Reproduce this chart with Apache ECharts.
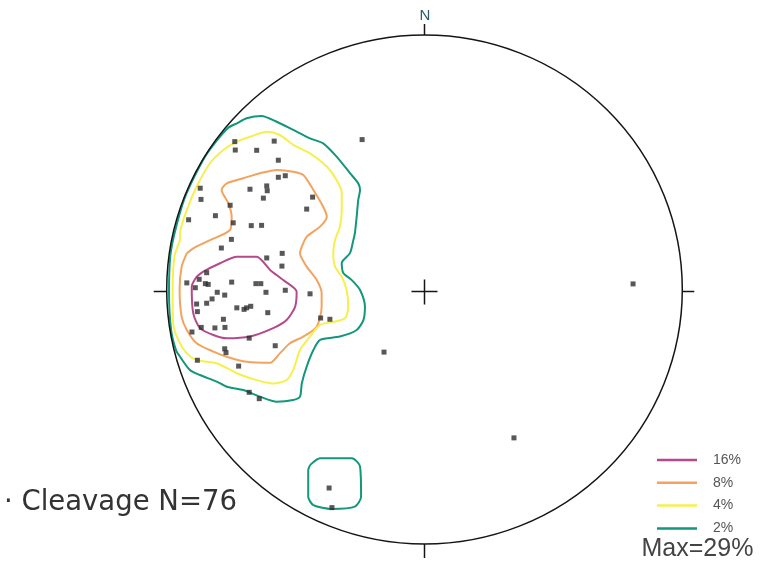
<!DOCTYPE html>
<html>
<head>
<meta charset="utf-8">
<script src="https://cdn.jsdelivr.net/npm/echarts@6/dist/echarts.min.js"></script>
<style>
html,body{margin:0;padding:0;background:#fff;}
#chart{width:760px;height:567px;}
</style>
</head>
<body>
<div id="chart"></div>
<script>
// Poles to cleavage, equal-area net coordinates (unit primitive circle)
const poles = [
  [-0.736,0.581],[-0.734,0.548],[-0.583,0.583],[-0.651,0.547],[-0.242,0.589],
  [-0.567,0.508],[-0.567,0.441],[-0.540,0.447],[-0.870,0.398],[-0.867,0.354],
  [-0.677,0.394],[-0.612,0.407],[-0.610,0.388],[-0.625,0.359],[-0.434,0.363],
  [-0.457,0.316],[-0.754,0.331],[-0.811,0.290],[-0.915,0.274],[-0.742,0.262],
  [-0.672,0.251],[-0.632,0.252],[-0.749,0.197],[-0.788,0.163],[-0.612,0.124],
  [-0.552,0.142],[-0.553,0.092],[-0.845,0.066],[-0.922,0.026],[-0.874,0.040],
  [-0.889,0.007],[-0.850,0.023],[-0.839,0.020],[-0.748,0.029],[-0.654,0.023],
  [-0.635,0.023],[-0.615,-0.011],[-0.540,-0.003],[-0.444,-0.017],[-0.804,-0.011],
  [-0.775,-0.022],[-0.824,-0.037],[-0.845,-0.054],[-0.884,-0.057],[-0.728,-0.072],
  [-0.700,-0.078],[-0.690,-0.072],[-0.674,-0.066],[-0.881,-0.087],[-0.608,-0.091],
  [-0.780,-0.117],[-0.403,-0.112],[-0.367,-0.117],[-0.866,-0.149],[-0.813,-0.151],
  [-0.774,-0.149],[-0.902,-0.167],[-0.680,-0.191],[-0.579,-0.221],[-0.775,-0.233],
  [-0.770,-0.248],[-0.881,-0.278],[-0.721,-0.301],[-0.680,-0.404],[-0.641,-0.429],
  [-0.157,-0.246],[0.809,0.022],[0.347,-0.583],[-0.370,-0.780],[-0.359,-0.857]
];

// Density contours (closed rings)
const contour16 = [
  [-0.884,0.050],[-0.858,0.070],[-0.793,0.103],[-0.728,0.129],[-0.651,0.129],
  [-0.599,0.077],[-0.548,0.037],[-0.496,-0.009],[-0.502,-0.068],[-0.535,-0.120],
  [-0.587,-0.152],[-0.677,-0.185],[-0.767,-0.192],[-0.819,-0.179],[-0.871,-0.152],
  [-0.897,-0.094],[-0.903,0.011]
];
const contour8 = [
  [-0.922,0.142],[-0.897,0.162],[-0.832,0.194],[-0.754,0.234],[-0.748,0.286],
  [-0.761,0.339],[-0.787,0.391],[-0.767,0.417],[-0.703,0.437],[-0.638,0.457],
  [-0.573,0.470],[-0.509,0.463],[-0.470,0.450],[-0.431,0.391],[-0.393,0.325],
  [-0.379,0.286],[-0.405,0.247],[-0.457,0.207],[-0.476,0.168],[-0.483,0.142],
  [-0.457,0.090],[-0.418,0.037],[-0.399,-0.015],[-0.399,-0.068],[-0.418,-0.146],
  [-0.470,-0.185],[-0.522,-0.211],[-0.561,-0.251],[-0.599,-0.288],[-0.690,-0.284],
  [-0.767,-0.264],[-0.819,-0.244],[-0.884,-0.211],[-0.922,-0.159],[-0.942,-0.107],
  [-0.950,-0.002],[-0.942,0.090]
];
const contour4 = [
  [-0.948,0.194],[-0.970,0.129],[-0.977,-0.002],[-0.975,-0.133],[-0.955,-0.198],
  [-0.922,-0.251],[-0.884,-0.277],[-0.806,-0.290],[-0.728,-0.329],[-0.651,-0.356],
  [-0.587,-0.369],[-0.535,-0.356],[-0.509,-0.316],[-0.483,-0.238],[-0.444,-0.185],
  [-0.405,-0.139],[-0.354,-0.127],[-0.308,-0.113],[-0.296,-0.068],[-0.302,-0.002],
  [-0.321,0.050],[-0.347,0.090],[-0.354,0.142],[-0.347,0.194],[-0.328,0.247],
  [-0.321,0.312],[-0.321,0.378],[-0.341,0.430],[-0.379,0.483],[-0.444,0.535],
  [-0.509,0.568],[-0.561,0.607],[-0.612,0.620],[-0.677,0.600],[-0.728,0.581],
  [-0.780,0.548],[-0.832,0.496],[-0.884,0.404],[-0.922,0.312],[-0.948,0.222]
];
const contour2 = [
  [-0.948,-0.264],[-0.910,-0.316],[-0.871,-0.336],[-0.806,-0.362],[-0.767,-0.382],
  [-0.703,-0.395],[-0.638,-0.421],[-0.573,-0.441],[-0.509,-0.434],[-0.483,-0.421],
  [-0.476,-0.369],[-0.457,-0.303],[-0.431,-0.238],[-0.405,-0.198],[-0.328,-0.185],
  [-0.263,-0.159],[-0.237,-0.120],[-0.231,-0.068],[-0.250,-0.002],[-0.282,0.037],
  [-0.315,0.065],[-0.321,0.104],[-0.289,0.143],[-0.276,0.194],[-0.270,0.221],
  [-0.263,0.286],[-0.257,0.352],[-0.250,0.391],[-0.257,0.417],[-0.289,0.457],
  [-0.341,0.522],[-0.393,0.574],[-0.444,0.594],[-0.509,0.627],[-0.573,0.659],
  [-0.632,0.682],[-0.690,0.673],[-0.728,0.653],[-0.762,0.635],[-0.813,0.576],
  [-0.859,0.509],[-0.933,0.352],[-0.983,0.155],[-0.991,-0.010],[-0.983,-0.159],
  [-0.964,-0.238]
];
const contour2b = [
  [-0.444,-0.690],[-0.405,-0.663],[-0.282,-0.663],[-0.250,-0.696],[-0.246,-0.814],
  [-0.270,-0.853],[-0.360,-0.862],[-0.431,-0.847],[-0.451,-0.814],[-0.451,-0.709]
];

const legendLabels = ['16%','8%','4%','2%'];
const colors = {'16%':'#b4498c','8%':'#f2a35e','4%':'#f6ef4e','2%':'#12977a'};

const close = a => a.concat([a[0]]);

const chart = echarts.init(document.getElementById('chart'), null, {renderer:'canvas'});

function renderFrame(params, api){
  const c = api.coord([0,0]);
  const s = api.size([1,1]);
  const cx=c[0], cy=c[1], rx=s[0], ry=s[1];
  const st = {stroke:'#151515', lineWidth:1.5, fill:'none'};
  const path = 'M'+(cx-rx)+','+cy+' A'+rx+','+ry+' 0 1 0 '+(cx+rx)+','+cy+
               ' A'+rx+','+ry+' 0 1 0 '+(cx-rx)+','+cy+' Z';
  return {type:'group', children:[
    {type:'path', shape:{pathData:path}, style:st},
    {type:'line', shape:{x1:cx,y1:cy-ry-11,x2:cx,y2:cy-ry}, style:st},
    {type:'line', shape:{x1:cx,y1:cy+ry,x2:cx,y2:cy+ry+14}, style:st},
    {type:'line', shape:{x1:cx-rx-13,y1:cy+2,x2:cx-rx,y2:cy+2}, style:st},
    {type:'line', shape:{x1:cx+rx,y1:cy+2,x2:cx+rx+12,y2:cy+2}, style:st},
    {type:'line', shape:{x1:cx-13,y1:cy+2,x2:cx+13,y2:cy+2}, style:st},
    {type:'line', shape:{x1:cx,y1:cy-10,x2:cx,y2:cy+15}, style:st}
  ]};
}

function contourSeries(name, data){
  return {
    name: name, type:'line', data: close(data), showSymbol:false, symbol:'none',
    smooth:0.25, z:2, silent:true,
    lineStyle:{color:colors[name], width:2},
    itemStyle:{color:colors[name]}
  };
}

chart.setOption({
  animation:false,
  backgroundColor:'#ffffff',
  grid:{left:166.7, top:35, width:515.6, height:509, containLabel:false},
  xAxis:{type:'value', min:-1, max:1, show:false},
  yAxis:{type:'value', min:-1, max:1, show:false},
  legend:{
    data: legendLabels, orient:'vertical', left:652, top:448,
    itemWidth:40, itemHeight:2.5, itemGap:8.8, icon:'rect',
    selectedMode:false,
    textStyle:{fontFamily:'Liberation Sans, Arial, sans-serif', fontSize:14, color:'#555', lineHeight:14, padding:[0,0,0,11]}
  },
  series:[
    {type:'custom', coordinateSystem:'cartesian2d', renderItem:renderFrame, data:[[0,0]], z:5, silent:true, clip:false},
    contourSeries('16%', contour16),
    contourSeries('8%', contour8),
    contourSeries('4%', contour4),
    contourSeries('2%', contour2),
    contourSeries('2%', contour2b),
    {type:'scatter', data:poles, symbol:'rect', symbolSize:5, z:4, silent:true,
     itemStyle:{color:'#2e2e2e'}}
  ],
  graphic:[
    {type:'text', x:425, y:16, style:{text:'N', fontFamily:'Liberation Sans, Arial, sans-serif', fontSize:15, fill:'#2c5c63', align:'center', verticalAlign:'middle'}},
    {type:'text', x:4, y:502.5, style:{text:'· Cleavage N=76', fontFamily:'DejaVu Sans, sans-serif', fontSize:27.5, fill:'#333', align:'left', verticalAlign:'middle'}},
    {type:'text', x:641.5, y:549, style:{text:'Max=29%', fontFamily:'Liberation Sans, Arial, sans-serif', fontSize:25, fill:'#444', align:'left', verticalAlign:'middle'}}
  ]
});
</script>
</body>
</html>
